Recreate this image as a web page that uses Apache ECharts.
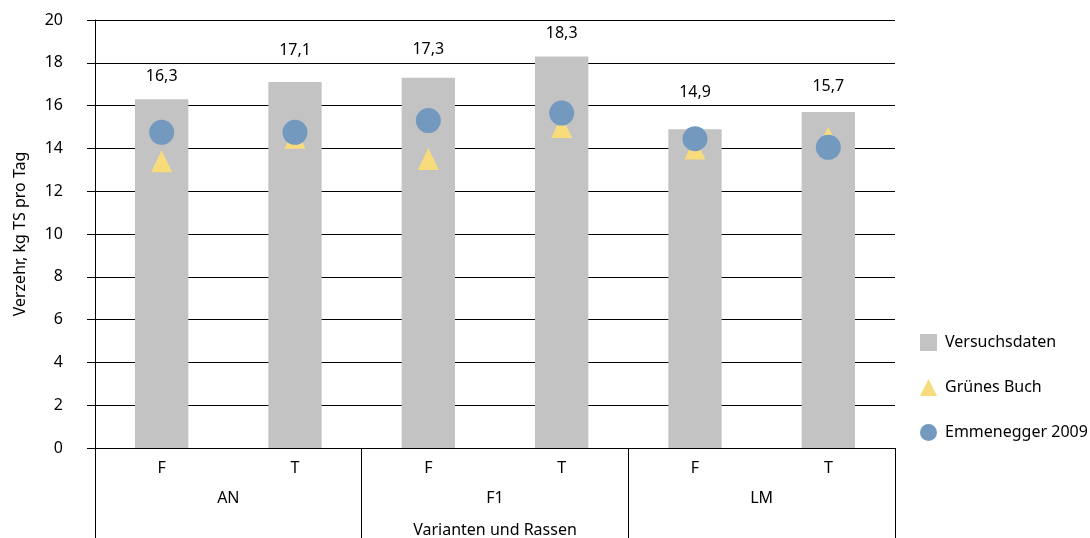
<!DOCTYPE html>
<html>
<head>
<meta charset="utf-8">
<script src="https://cdn.jsdelivr.net/npm/echarts@6/dist/echarts.min.js"></script>
<style>html,body{margin:0;padding:0;background:#fff}#c{width:1090px;height:538px}</style>
</head>
<body>
<div id="c"></div>
<script>
const subCategories = ['F', 'T', 'F', 'T', 'F', 'T'];
const groups = ['AN', 'F1', 'LM'];
const versuchsdaten = [16.3, 17.1, 17.3, 18.3, 14.9, 15.7];
const gruenesBuch = [13.4, 14.5, 13.5, 15.0, 14.0, 14.5];
const emmenegger = [14.75, 14.75, 15.3, 15.65, 14.45, 14.05];
const yTicks = [0, 2, 4, 6, 8, 10, 12, 14, 16, 18, 20];

const font = '"Noto Sans", "Open Sans", sans-serif';
const fs = 16;

function buildOption() {
  // label nudges as in the original chart (value labels not all at equal distance)
  const labelNudge = [1, 10, 6, 1, 15, 4];
  const barData = versuchsdaten.map((v, i) => ({
    value: v,
    label: { offset: [0, -labelNudge[i]] }
  }));
  return {
    animation: false,
    textStyle: { fontFamily: font, color: '#000' },
    grid: { left: 95, right: 195, top: 20, bottom: 90, containLabel: false, outerBoundsMode: 'none' },
    legend: {
      orient: 'vertical',
      left: 915, top: 329,
      itemGap: 28,
      itemWidth: 17, itemHeight: 17,
      textStyle: { fontFamily: font, fontSize: fs, color: '#000', padding: [0, 0, 0, 3] },
      data: [
        { name: 'Versuchsdaten', icon: 'rect' },
        { name: 'Grünes Buch', icon: 'triangle' },
        { name: 'Emmenegger 2009', icon: 'circle' }
      ]
    },
    xAxis: [
      {
        type: 'category', data: subCategories, position: 'bottom',
        axisLine: { show: true, lineStyle: { color: '#000', width: 1 } },
        axisTick: { show: false },
        axisLabel: { margin: 12, fontSize: fs, color: '#000', fontFamily: font }
      },
      {
        type: 'category', data: groups, position: 'bottom', offset: 0,
        axisLine: { show: false },
        axisTick: { show: true, length: 92, interval: 0, lineStyle: { color: '#000', width: 1 } },
        axisLabel: { margin: 42, fontSize: fs, color: '#000', fontFamily: font },
        name: 'Varianten und Rassen', nameLocation: 'middle', nameGap: 74,
        nameTextStyle: { fontSize: fs, color: '#000', fontFamily: font }
      }
    ],
    yAxis: {
      type: 'value', min: yTicks[0], max: yTicks[yTicks.length - 1], interval: 2,
      name: 'Verzehr, kg TS pro Tag', nameLocation: 'middle', nameGap: 67,
      nameTextStyle: { fontSize: fs, color: '#000', fontFamily: font },
      axisLine: { show: true, lineStyle: { color: '#000', width: 1 } },
      axisTick: { show: true, length: 8, lineStyle: { color: '#000' } },
      axisLabel: { margin: 32, fontSize: fs, color: '#000', fontFamily: font },
      splitLine: { show: true, lineStyle: { color: '#000', width: 1 } }
    },
    series: [
      {
        name: 'Versuchsdaten', type: 'bar', xAxisIndex: 0, data: barData,
        barWidth: '40%', itemStyle: { color: '#c3c3c3' }, z: 2,
        label: {
          show: true, position: 'top', distance: 14, fontSize: fs, color: '#000', fontFamily: font,
          formatter: p => p.value.toFixed(1).replace('.', ',')
        }
      },
      {
        name: 'Grünes Buch', type: 'scatter', xAxisIndex: 0, data: gruenesBuch,
        symbol: 'triangle', symbolSize: [21, 22], itemStyle: { color: '#f8dc7c', opacity: 1 }, z: 3
      },
      {
        name: 'Emmenegger 2009', type: 'scatter', xAxisIndex: 0, data: emmenegger,
        symbol: 'circle', symbolSize: 25, itemStyle: { color: '#7399bf', opacity: 1 }, z: 4
      }
    ]
  };
}

const chart = echarts.init(document.getElementById('c'));
chart.setOption(buildOption());
</script>
</body>
</html>
